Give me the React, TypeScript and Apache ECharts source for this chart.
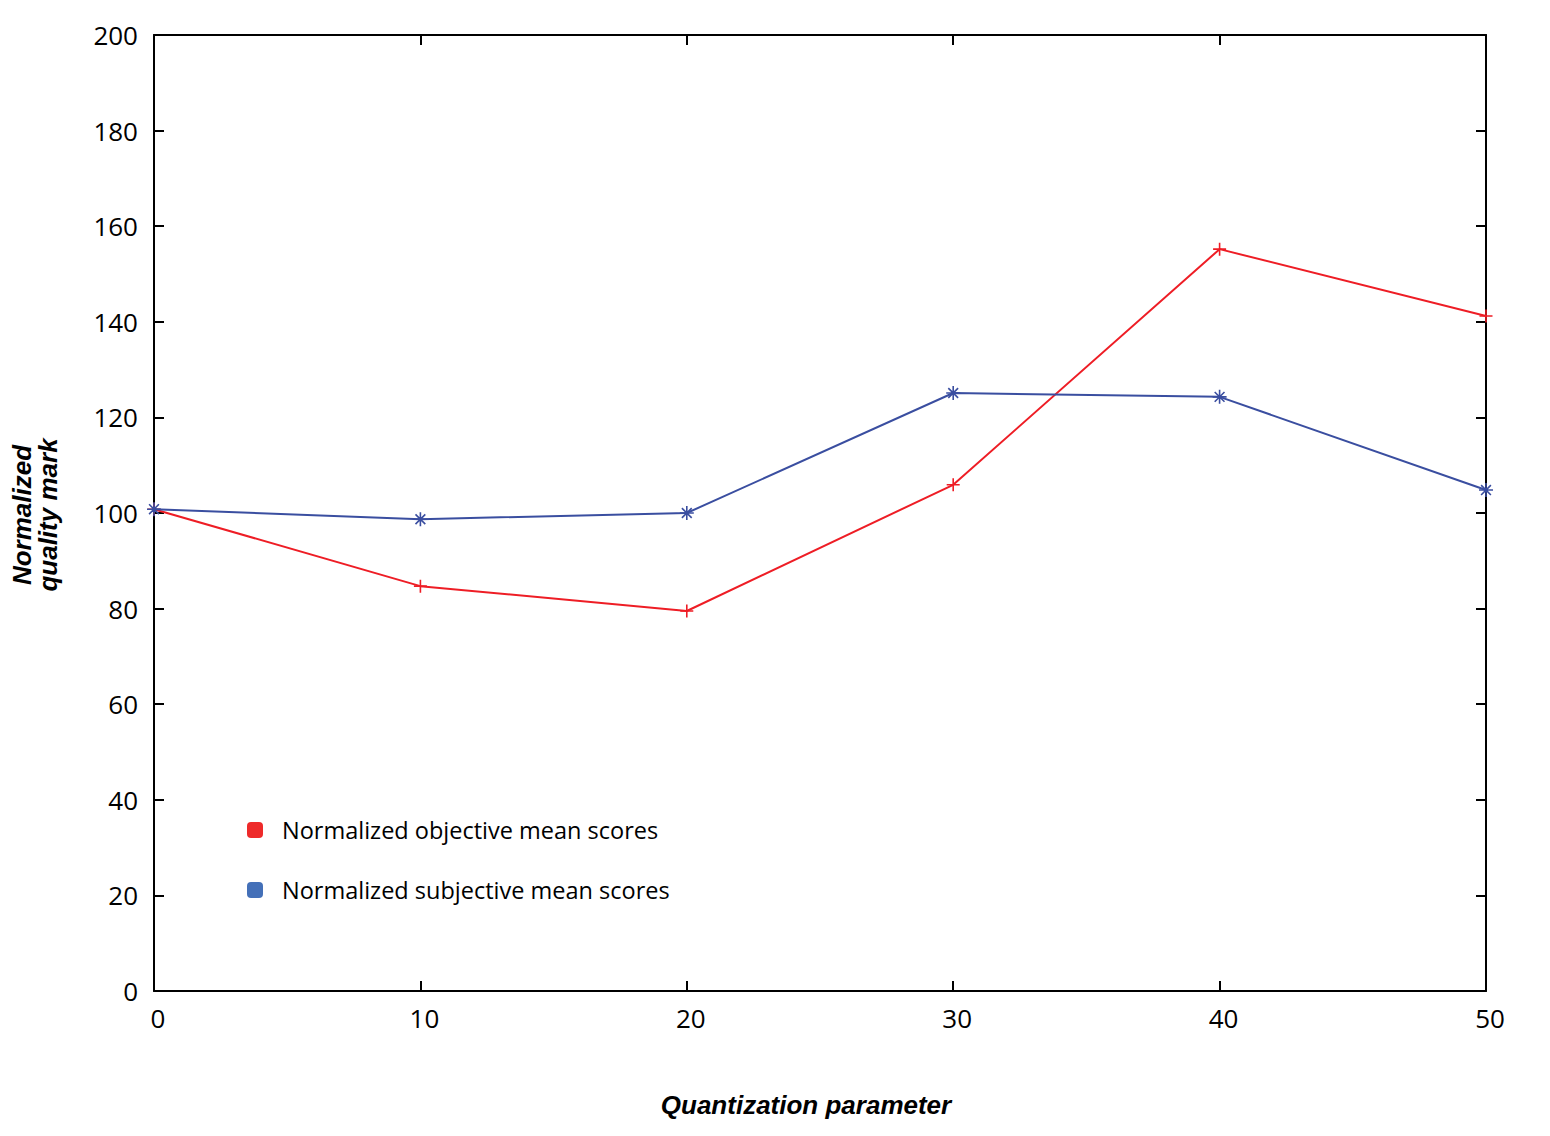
import React, { useEffect, useRef } from "react";
import * as echarts from "echarts";

const qpValues = [0, 10, 20, 30, 40, 50];
const objectiveScores = [100.8, 84.7, 79.5, 105.9, 155.2, 141.2];
const subjectiveScores = [100.8, 98.7, 100.0, 125.1, 124.3, 104.8];
const seriesNames = ["Normalized objective mean scores", "Normalized subjective mean scores"];
const xTitle = "Quantization parameter";
const yTitle = "Normalized\nquality mark";

const RED = "#ee1d25";
const BLUE = "#3a4ea0";
const LABEL_FONT = "'Open Sans', 'Noto Sans', sans-serif";
const TITLE_FONT = "'Liberation Sans', Arial, sans-serif";

const plusSymbol = "path://M0,5 L10,5 M5,0 L5,10";
const starSymbol = "path://M0,5 L10,5 M5,0 L5,10 M1.5,1.5 L8.5,8.5 M1.5,8.5 L8.5,1.5";

export default function App() {
  const ref = useRef<HTMLDivElement>(null);
  useEffect(() => {
    if (!ref.current) return;
    const chart = echarts.init(ref.current, undefined, { renderer: "svg" });
    const axisLine = { show: true, onZero: false, lineStyle: { color: "#000", width: 2 } };
    const axisTick = { show: true, inside: true, length: 10, lineStyle: { color: "#000", width: 2 } };
    chart.setOption({
      animation: false,
      backgroundColor: "#fff",
      grid: { left: 154, right: 64, top: 35, bottom: 145 },
      legend: {
        orient: "vertical",
        left: 247,
        top: 818,
        padding: 0,
        itemWidth: 16,
        itemHeight: 16,
        itemGap: 36,
        icon: "roundRect",
        textStyle: {
          fontFamily: LABEL_FONT,
          fontSize: 23.5,
          lineHeight: 24,
          color: "#000",
          padding: [0, 0, 0, 14],
        },
        data: [
          { name: seriesNames[0], itemStyle: { color: "#ee2a2a", borderWidth: 0 } },
          { name: seriesNames[1], itemStyle: { color: "#4470b8", borderWidth: 0 } },
        ],
      },
      graphic: [
        {
          type: "text",
          x: 806,
          y: 1105,
          style: {
            text: xTitle,
            font: `italic bold 26px ${TITLE_FONT}`,
            fill: "#000",
            align: "center",
            verticalAlign: "middle",
          },
        },
        {
          type: "text",
          x: 35,
          y: 515,
          rotation: Math.PI / 2,
          style: {
            text: yTitle,
            font: `italic bold 26px ${TITLE_FONT}`,
            fill: "#000",
            align: "center",
            verticalAlign: "middle",
            lineHeight: 26,
          },
        },
      ],
      xAxis: [
        {
          type: "value",
          min: 0,
          max: 50,
          interval: 10,
          position: "bottom",
          axisLine,
          axisTick,
          splitLine: { show: false },
          axisLabel: { fontFamily: LABEL_FONT, fontSize: 26, color: "#000", margin: 14, padding: [0, 0, 0, 8] },
        },
        {
          type: "value",
          min: 0,
          max: 50,
          interval: 10,
          position: "top",
          axisLine,
          axisTick,
          splitLine: { show: false },
          axisLabel: { show: false },
        },
      ],
      yAxis: [
        {
          type: "value",
          min: 0,
          max: 200,
          interval: 20,
          position: "left",
          axisLine,
          axisTick,
          splitLine: { show: false },
          axisLabel: { fontFamily: LABEL_FONT, fontSize: 26, color: "#000", margin: 16 },
        },
        {
          type: "value",
          min: 0,
          max: 200,
          interval: 20,
          position: "right",
          axisLine,
          axisTick,
          splitLine: { show: false },
          axisLabel: { show: false },
        },
      ],
      series: [
        {
          name: seriesNames[0],
          type: "line",
          clip: false,
          data: qpValues.map((x, i) => [x, objectiveScores[i]]),
          lineStyle: { color: RED, width: 2 },
          symbol: plusSymbol,
          symbolSize: 13,
          itemStyle: { color: RED, borderColor: RED, borderWidth: 1.6 },
          z: 3,
        },
        {
          name: seriesNames[1],
          type: "line",
          clip: false,
          data: qpValues.map((x, i) => [x, subjectiveScores[i]]),
          lineStyle: { color: BLUE, width: 2 },
          symbol: starSymbol,
          symbolSize: 14,
          itemStyle: { color: BLUE, borderColor: BLUE, borderWidth: 1.6 },
          z: 4,
        },
      ],
    });
    return () => chart.dispose();
  }, []);
  return (
    <div
      ref={ref}
      style={{ position: "fixed", left: 0, top: 0, width: 1550, height: 1136, background: "#fff" }}
    />
  );
}
